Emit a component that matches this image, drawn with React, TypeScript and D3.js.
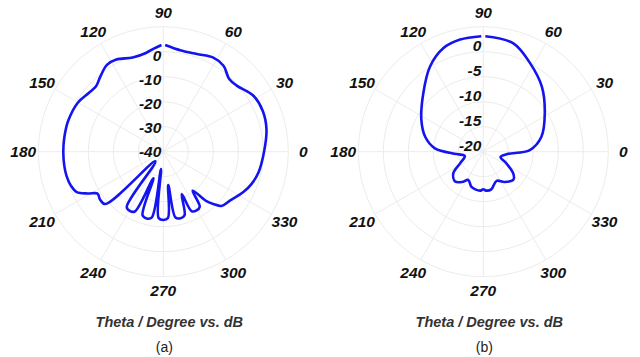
import React from 'react';
import * as d3 from 'd3';

const angleTicks = [0, 30, 60, 90, 120, 150, 180, 210, 240, 270, 300, 330];
const radialTicksA = [0, -10, -20, -30, -40];
const radialTicksB = [0, -5, -10, -15, -20];

const thetaA = [91, 95, 100, 108, 117, 123, 130, 136, 142, 150, 162, 172, 180, 188, 194, 200, 205, 209, 212.5, 217, 222,
  230.5, 236.5, 240.5, 244.5, 249.5, 252, 256, 260, 262.5, 266, 270, 274, 278.5, 280.5, 284.5, 288.5, 293.5, 295.5, 299.5, 303.5, 307,
  311, 314, 317, 324, 333, 340, 348, 360, 372, 382, 392, 402, 408, 415, 422, 431, 440, 449];
const gainA = [2.7, 1.5, 0.1, -0.4, 1.4, 1.4, -0.8, -2.5, -2.0, -0.6, 0, 0, 0, 0, -0.1, -0.6, -1.8, -5.5, -8.8, -8.3, -8.7,
  -35, -13.5, -12.8, -13.5, -28.7, -13.2, -12.5, -13.2, -33, -13.4, -12.7, -13.4, -26.5, -13.2, -12.5, -13.2, -21.5, -13.6, -13, -13.6, -20.5,
  -14, -10.8, -8.2, -6.9, -4.2, -2.4, -1, 0.3, 2.2, 3.0, 2.4, -0.5, -0.7, 2.0, 2.6, 1.3, 1.1, 2.7];

const thetaB = [91, 101.7, 111, 122, 136, 153, 165.6, 176, 185, 193, 206.6, 215.8, 226.6, 235, 242, 251, 258, 266, 270, 274, 282,
  294.5, 305, 317.4, 324, 333, 343, 354, 362, 374.4, 392, 408, 422, 434.5, 449];
const gainB = [3.1, 2.9, 2.2, 0.1, -3.3, -6.1, -8, -10.3, -14.6, -16.2, -14.8, -12.6, -11.8, -12.6, -13.6, -12.6, -12.3, -12.2, -12.5, -12.2, -12.3,
  -13.6, -12.6, -11.8, -12.6, -14.8, -16.4, -15.3, -10.7, -8, -5.5, -2.5, 0, 2.5, 3.1];

const FONT = "Arial, 'Liberation Sans', sans-serif";

type PolarProps = {
  cx: number; cy: number; domain: [number, number]; ticks: number[];
  theta: number[]; gain: number[]; labelShift: (r: number) => number; caption: string;
};

function Polar({ cx, cy, domain, ticks, theta, gain, labelShift, caption }: PolarProps) {
  const outer = 125;
  const r = d3.scaleLinear().domain(domain).range([0, outer]);
  const rings = r.ticks(5).filter(v => r(v) > 0);
  const idx = d3.range(theta.length);
  const line = d3.lineRadial<number>()
    .angle(i => (90 - theta[i]) * Math.PI / 180)
    .radius(i => r(gain[i]))
    .curve(d3.curveCatmullRom.alpha(0.5));
  const rad = (a: number) => a * Math.PI / 180;
  return (
    <g>
      <g transform={`translate(${cx},${cy})`}>
        {rings.map(v => (
          <circle key={v} r={r(v)} fill="none" stroke="#ececec" strokeWidth={1} />
        ))}
        {angleTicks.map(a => (
          <line key={a} x1={0} y1={0} x2={outer * Math.cos(rad(a))} y2={-outer * Math.sin(rad(a))}
            stroke="#ececec" strokeWidth={1} />
        ))}
        <path d={line(idx) || ''} fill="none" stroke="#1414f0" strokeWidth={2.6} strokeLinejoin="round" />
        {ticks.map(v => (
          <text key={v} x={-2} y={-labelShift(r(v))} textAnchor="end" dominantBaseline="central"
            fontFamily={FONT} fontWeight="bold" fontStyle="italic" fontSize={15.5} fill="#111">{v}</text>
        ))}
        {angleTicks.map(a => (
          <text key={a} x={140 * Math.cos(rad(a))} y={-139 * Math.sin(rad(a))} textAnchor="middle"
            dominantBaseline="central" fontFamily={FONT} fontWeight="bold" fontStyle="italic" fontSize={15.5} fill="#111">{a}</text>
        ))}
      </g>
      <text x={cx + 6} y={322} textAnchor="middle" dominantBaseline="central" fontFamily={FONT}
        fontWeight="bold" fontStyle="italic" fontSize={14.5} fill="#333">Theta / Degree vs. dB</text>
      <text x={cx + 1} y={347} textAnchor="middle" dominantBaseline="central" fontFamily={FONT}
        fontSize={14} fill="#222">{caption}</text>
    </g>
  );
}

export default function App() {
  return (
    <svg width={640} height={357} style={{ position: 'absolute', left: 0, top: 0, background: '#fff' }}>
      <rect width={640} height={357} fill="#fff" />
      <Polar cx={163.3} cy={151.7} domain={[-40, 10]} ticks={radialTicksA} theta={thetaA} gain={gainA}
        labelShift={v => v * 0.96} caption="(a)" />
      <Polar cx={483.3} cy={151.7} domain={[-20, 5]} ticks={radialTicksB} theta={thetaB} gain={gainB}
        labelShift={v => v + 6} caption="(b)" />
    </svg>
  );
}
